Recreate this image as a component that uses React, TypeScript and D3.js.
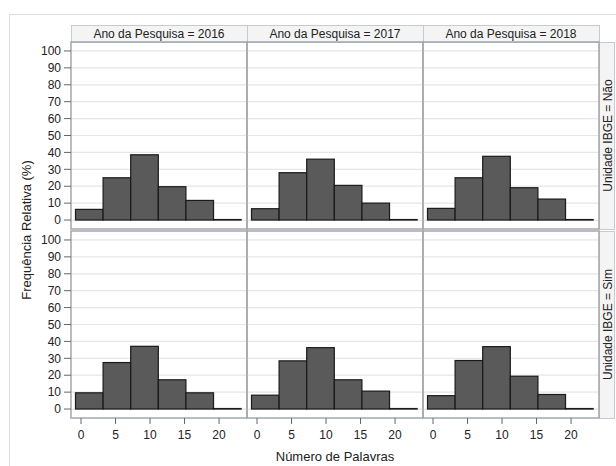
import React from 'react'
import * as d3 from 'd3'

// facet labels
const years = ['2016', '2017', '2018']
const unidades = ['Não', 'Sim']

// histogram bin edges (Número de Palavras)
const binEdges = [-0.8, 3.2, 7.2, 11.2, 15.2, 19.2, 23.2]

// relative frequency (%) per bin, one list per panel
const naoValues = [
  [6.3, 25, 38.6, 19.7, 11.6, 0.3],
  [6.7, 28, 36, 20.5, 10, 0.3],
  [6.9, 25, 37.7, 19.1, 12.4, 0.3],
]
const simValues = [
  [9.6, 27.5, 37.1, 17.3, 9.6, 0.3],
  [8.2, 28.5, 36.3, 17.3, 10.6, 0.3],
  [7.9, 28.7, 36.9, 19.4, 8.6, 0.3],
]

const yTicks = [0, 10, 20, 30, 40, 50, 60, 70, 80, 90, 100]
const xTicks = [0, 5, 10, 15, 20]

const font = '"Liberation Sans", Arial, sans-serif'

const App = () => {
  const width = 616
  const height = 466
  const left = 71
  const panelW = 176
  const stripH = 17
  const top = 42
  const rowTops = [top, 231]
  const panelH = 187
  const rightStripW = 15

  const rows = [naoValues, simValues]

  const xFor = (col: number) =>
    d3.scaleLinear().domain([-1.45, 24.05]).range([left + col * panelW, left + (col + 1) * panelW])
  const yFor = (row: number) =>
    d3.scaleLinear().domain([-5.3, 105.3]).range([rowTops[row] + panelH, rowTops[row]])

  const right = left + panelW * 3
  const bottom = rowTops[1] + panelH

  return (
    <svg width={width} height={height} style={{ position: 'absolute', left: 0, top: 0, fontFamily: font }}>
      <rect x={0} y={0} width={width} height={height} fill="white" />
      <rect x={9.5} y={14.5} width={width} height={height} fill="none" stroke="#dedede" />

      {/* column strips */}
      {years.map((yr, c) => (
        <g key={yr}>
          <rect x={left + c * panelW + 0.5} y={top - stripH + 0.5} width={panelW} height={stripH}
            fill="#f4f4f4" stroke="#c8cbce" />
          <text x={left + c * panelW + panelW / 2} y={top - stripH / 2} dy="0.35em"
            textAnchor="middle" fontSize={12} fill="#222">{`Ano da Pesquisa = ${yr}`}</text>
        </g>
      ))}

      {/* row strips */}
      {unidades.map((u, r) => (
        <g key={u}>
          <rect x={right + 0.5} y={rowTops[r] + 0.5} width={rightStripW} height={panelH}
            fill="#f4f4f4" stroke="#c8cbce" />
          <text transform={`translate(${right + rightStripW / 2 + 1},${rowTops[r] + panelH / 2}) rotate(-90)`}
            dy="0.35em" textAnchor="middle" fontSize={12} fill="#222">{`Unidade IBGE = ${u}`}</text>
        </g>
      ))}

      {rows.map((vals, r) => {
        const y = yFor(r)
        return (
          <g key={r}>
            {vals.map((series, c) => {
              const x = xFor(c)
              return (
                <g key={c}>
                  {yTicks.map(t => (
                    <line key={t} x1={x.range()[0]} x2={x.range()[1]} y1={y(t)} y2={y(t)}
                      stroke="#e6e6e6" strokeWidth={1.2} />
                  ))}
                  {series.map((v, i) => (
                    <rect key={i} x={x(binEdges[i])} y={y(v)} width={x(binEdges[i + 1]) - x(binEdges[i])}
                      height={y(0) - y(v)} fill="#555555" fillOpacity={0.97} stroke="#1a1a1a" strokeWidth={1.2} />
                  ))}
                  <rect x={x.range()[0]} y={rowTops[r]} width={panelW} height={panelH}
                    fill="none" stroke="#a3a8ad" strokeWidth={1.5} />
                </g>
              )
            })}
            {/* y axis */}
            {yTicks.map(t => (
              <g key={t}>
                <line x1={left - 7} x2={left} y1={y(t)} y2={y(t)} stroke="#666" />
                <text x={left - 10} y={y(t)} dy="0.35em" textAnchor="end" fontSize={12} fill="#222">{t}</text>
              </g>
            ))}
          </g>
        )
      })}

      {/* x axes */}
      {years.map((yr, c) => {
        const x = xFor(c)
        return (
          <g key={yr}>
            {xTicks.map(t => (
              <g key={t}>
                <line x1={x(t)} x2={x(t)} y1={bottom} y2={bottom + 6} stroke="#666" />
                <text x={x(t)} y={bottom + 17} dy="0.35em" textAnchor="middle" fontSize={12} fill="#222">{t}</text>
              </g>
            ))}
          </g>
        )
      })}

      <text x={(left + right) / 2} y={456} dy="0.35em" textAnchor="middle" fontSize={13} fill="#222">
        Número de Palavras
      </text>
      <text transform={`translate(26,${(top + bottom) / 2}) rotate(-90)`} dy="0.35em" textAnchor="middle"
        fontSize={13} fill="#222">Frequência Relativa (%)</text>
    </svg>
  )
}

export default App
